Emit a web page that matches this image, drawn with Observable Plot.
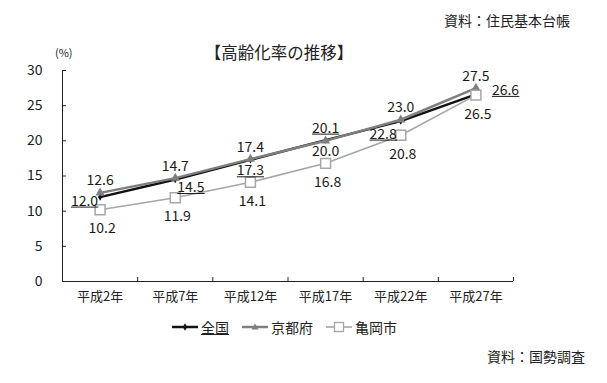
<!DOCTYPE html>
<html>
<head>
<meta charset="utf-8">
<script src="https://cdn.jsdelivr.net/npm/d3@7"></script>
<script src="https://cdn.jsdelivr.net/npm/@observablehq/plot@0.6"></script>
<style>
  html, body { margin: 0; padding: 0; background: #fff; }
  #wrap { position: relative; width: 607px; height: 383px; overflow: hidden; font-family: "Noto Sans CJK JP", "Noto Sans", sans-serif; color: #222; }
  #wrap svg.plot { position: absolute; left: 0; top: 0; }
  .abs { position: absolute; white-space: nowrap; }
  #legend { position: absolute; left: 172px; top: 318px; display: flex; align-items: center; font-size: 14px; line-height: 18px; }
  #legend .item { display: flex; align-items: center; margin-right: 13px; }
  #legend svg { margin-right: 3px; }
</style>
</head>
<body>
<div id="wrap">
  <div class="abs" style="right:37px; top:11px; font-size:14px; line-height:18px;">資料：住民基本台帳</div>
  <div class="abs" style="left:129px; width:300px; text-align:center; top:42px; font-size:16.5px; line-height:20px;">【高齢化率の推移】</div>
  <div class="abs" style="left:55px; top:45px; font-size:11px; line-height:14px;">(%)</div>
  <div class="abs" style="right:22px; top:347px; font-size:14px; line-height:18px;">資料：国勢調査</div>
  <div id="legend"></div>
</div>
<script>
// ---- data ----
const categories = ["平成2年", "平成7年", "平成12年", "平成17年", "平成22年", "平成27年"];
const seriesNames = ["全国", "京都府", "亀岡市"];
const national = [12.0, 14.5, 17.3, 20.1, 22.8, 26.6];
const kyoto    = [12.6, 14.7, 17.4, 20.0, 23.0, 27.5];
const kameoka  = [10.2, 11.9, 14.1, 16.8, 20.8, 26.5];
const yTicks = [0, 5, 10, 15, 20, 25, 30];
// label placement per point (like a chart's data-label position setting)
const nationalLabelPos = ["left", "right", "below", "above", "belowLeft", "farRight"];
const kyotoLabelPos    = ["above", "above", "above", "below", "above", "above"];
const kameokaLabelPos  = ["farBelow", "farBelow", "farBelow", "farBelow", "farBelow", "farBelow"];

// ---- styles ----
const placements = {
  above:     {dx: 0,  dy: -12, textAnchor: "middle"},
  below:     {dx: 0,  dy: 11,  textAnchor: "middle"},
  farBelow:  {dx: 2,  dy: 19,  textAnchor: "middle"},
  left:      {dx: -2, dy: 4,   textAnchor: "end"},
  right:     {dx: 2,  dy: 8,   textAnchor: "start"},
  farRight:  {dx: 16, dy: -4,  textAnchor: "start"},
  belowLeft: {dx: -4, dy: 13,  textAnchor: "end"}
};
const colNational = "#111", colKyoto = "#7f7f7f", colKameoka = "#a6a6a6";
const font = "Noto Sans CJK JP";

const toRows = (vals, pos) => vals.map((v, i) => ({i, v, pos: pos[i]}));
const natRows = toRows(national, nationalLabelPos);
const kyoRows = toRows(kyoto, kyotoLabelPos);
const kamRows = toRows(kameoka, kameokaLabelPos);

function labelMarks(rows, name) {
  return Object.entries(placements).map(([key, p]) =>
    Plot.text(rows.filter(d => d.pos === key), {
      x: "i", y: "v", text: d => d.v.toFixed(1),
      dx: p.dx, dy: p.dy, textAnchor: p.textAnchor,
      fontSize: 14, fontFamily: font, fill: "#1a1a1a",
      ariaLabel: () => name
    })
  );
}

const boundaries = d3.range(categories.length + 1).map(i => i - 0.5);

const chart = Plot.plot({
  width: 607,
  height: 383,
  marginLeft: 62,
  marginRight: 94,
  marginTop: 70,
  marginBottom: 102,
  style: {fontFamily: font, color: "#222", background: "transparent"},
  x: {type: "linear", domain: [-0.5, categories.length - 0.5], axis: null},
  y: {domain: [0, 30], axis: null},
  marks: [
    Plot.ruleX([-0.5], {stroke: "#222", strokeWidth: 1}),
    Plot.ruleY([0], {stroke: "#222", strokeWidth: 1}),
    Plot.axisY({ticks: yTicks, tickSize: -4, tickPadding: 24, fontSize: 14, fontFamily: font, stroke: "#222", fill: "#222", label: null}),
    Plot.axisX({ticks: boundaries, tickSize: -4, tickFormat: () => "", stroke: "#222", label: null}),
    Plot.axisX({ticks: d3.range(categories.length), tickSize: 0, tickPadding: 10, tickFormat: i => categories[i], fontSize: 13, fontFamily: font, fill: "#222", label: null}),
    // lines
    Plot.line(natRows, {x: "i", y: "v", stroke: colNational, strokeWidth: 2.5}),
    Plot.dot(natRows, {x: "i", y: "v", symbol: "diamond", r: 2.2, fill: colNational, stroke: "none"}),
    Plot.line(kyoRows, {x: "i", y: "v", stroke: colKyoto, strokeWidth: 2.5}),
    Plot.dot(kyoRows, {x: "i", y: "v", symbol: "triangle", r: 3.4, fill: colKyoto, stroke: "none"}),
    Plot.line(kamRows, {x: "i", y: "v", stroke: colKameoka, strokeWidth: 1.6}),
    Plot.dot(kamRows, {x: "i", y: "v", symbol: "square", r: 5.6, fill: "#fff", stroke: colKameoka, strokeWidth: 1.5}),
    // labels
    ...labelMarks(natRows, "national-label"),
    ...labelMarks(kyoRows, "kyoto-label"),
    ...labelMarks(kamRows, "kameoka-label")
  ]
});
chart.classList.add("plot");
document.getElementById("wrap").appendChild(chart);

// underline the national (全国) value labels, measured from the rendered text
d3.select(chart).selectAll('text[aria-label="national-label"]').each(function() {
  const b = this.getBBox();
  const t = this.getAttribute("transform");
  const line = document.createElementNS("http://www.w3.org/2000/svg", "line");
  line.setAttribute("x1", b.x);
  line.setAttribute("x2", b.x + b.width);
  line.setAttribute("y1", b.y + b.height - 2.5);
  line.setAttribute("y2", b.y + b.height - 2.5);
  line.setAttribute("stroke", "#1a1a1a");
  line.setAttribute("stroke-width", 1);
  if (t) line.setAttribute("transform", t);
  this.parentNode.appendChild(line);
});

// ---- legend ----
const legendDefs = [
  {name: seriesNames[0], color: colNational, w: 2.5, marker: "diamond", underline: true},
  {name: seriesNames[1], color: colKyoto, w: 2.5, marker: "triangle"},
  {name: seriesNames[2], color: colKameoka, w: 1.6, marker: "square"}
];
const legend = d3.select("#legend");
legendDefs.forEach(d => {
  const item = legend.append("div").attr("class", "item");
  const s = item.append("svg").attr("width", 26).attr("height", 12);
  s.append("line").attr("x1", 0).attr("x2", 26).attr("y1", 6).attr("y2", 6)
    .attr("stroke", d.color).attr("stroke-width", d.w);
  if (d.marker === "diamond") {
    s.append("path").attr("d", d3.symbol(d3.symbolDiamond, 16)()).attr("transform", "translate(13,6)").attr("fill", d.color);
  } else if (d.marker === "triangle") {
    s.append("path").attr("d", d3.symbol(d3.symbolTriangle, 22)()).attr("transform", "translate(13,6.5)").attr("fill", d.color);
  } else {
    s.append("rect").attr("x", 8.5).attr("y", 1.5).attr("width", 9).attr("height", 9)
      .attr("fill", "#fff").attr("stroke", d.color).attr("stroke-width", 1.3);
  }
  item.append("span").text(d.name).style("text-decoration", d.underline ? "underline" : "none");
});
</script>
</body>
</html>
